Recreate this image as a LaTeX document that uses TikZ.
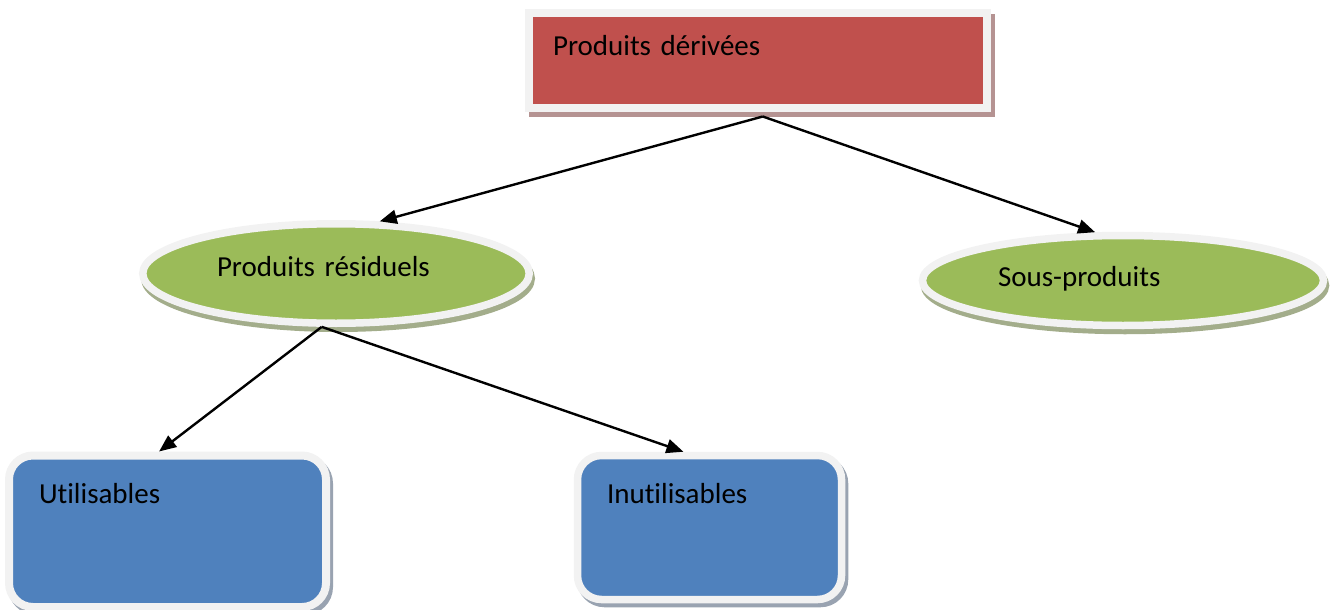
\documentclass[tikz,border=0pt]{standalone}
\usepackage{fontspec}
\setmainfont{Carlito}[Ligatures=NoCommon]
\usepackage{xcolor}
\usetikzlibrary{arrows.meta,shapes.geometric,shadows}
\definecolor{boxred}{HTML}{C0504D}
\definecolor{boxgreen}{HTML}{9BBB59}
\definecolor{boxblue}{HTML}{4F81BD}
\definecolor{rim}{HTML}{F2F2F2}
\definecolor{redshade}{HTML}{B59392}
\definecolor{greenshade}{HTML}{A3AD8B}
\definecolor{blueshade}{HTML}{99A3B1}

\begin{document}
\begin{tikzpicture}[x=1pt, y=1pt, every node/.style={font=\fontsize{29}{35}\selectfont},
  frame/.style={draw=rim, line width=8pt, align=left},
  link/.style={line width=2.4pt, -{Triangle[length=17pt,width=14pt]}}]
\useasboundingbox (0,0) rectangle (1330,-610);
% top box
\node[frame, fill=boxred, inner xsep=24pt, inner ysep=10pt, text width=409.5pt,
  text height=33pt, text depth=41.5pt,
  drop shadow={shadow xshift=4pt, shadow yshift=-5pt, opacity=1, fill=redshade, draw=redshade, line width=8pt}]
  (derivees) at (757.75,-60.25) {Produits dérivées};
% second level
\node[frame, ellipse, fill=boxgreen, line width=7.5pt, inner sep=0pt, text width=238pt,
  minimum width=386.5pt, minimum height=99.5pt, text height=17.5pt, text depth=12.5pt,
  drop shadow={shadow xshift=2pt, shadow yshift=-5pt, opacity=1, fill=greenshade, draw=greenshade, line width=7.5pt}]
  (residuels) at (336,-273.5) {Produits résiduels};
\node[frame, ellipse, fill=boxgreen, line width=7.5pt, inner sep=0pt, text width=250pt,
  minimum width=401pt, minimum height=90pt, text height=20.5pt, text depth=9.5pt,
  drop shadow={shadow xshift=2pt, shadow yshift=-5pt, opacity=1, fill=greenshade, draw=greenshade, line width=7.5pt}]
  (sous) at (1123,-280.5) {Sous-produits};
% bottom boxes
\node[frame, fill=boxblue, rounded corners=24pt, inner xsep=30pt, inner ysep=10pt, text width=257pt,
  text height=37.5pt, text depth=94pt,
  drop shadow={shadow xshift=3pt, shadow yshift=-4pt, opacity=1, fill=blueshade, draw=blueshade, line width=8pt}]
  (utiles) at (167.5,-531.25) {Utilisables};
\node[frame, fill=boxblue, rounded corners=24pt, line width=7.5pt, inner xsep=29.5pt, inner ysep=10pt, text width=205pt,
  text height=37.5pt, text depth=86.5pt,
  drop shadow={shadow xshift=3pt, shadow yshift=-4pt, opacity=1, fill=blueshade, draw=blueshade, line width=7.5pt}]
  (inutiles) at (709.5,-527.5) {Inutilisables};
% arrows
\draw[link] ([xshift=5pt,yshift=-5pt]derivees.south) -- (residuels.50);
\draw[link] ([xshift=5pt,yshift=-5pt]derivees.south) -- (sous.120);
\draw[link] (residuels.255) -- (utiles.96);
\draw[link] (residuels.255) -- (inutiles.109);
\end{tikzpicture}
\end{document}
